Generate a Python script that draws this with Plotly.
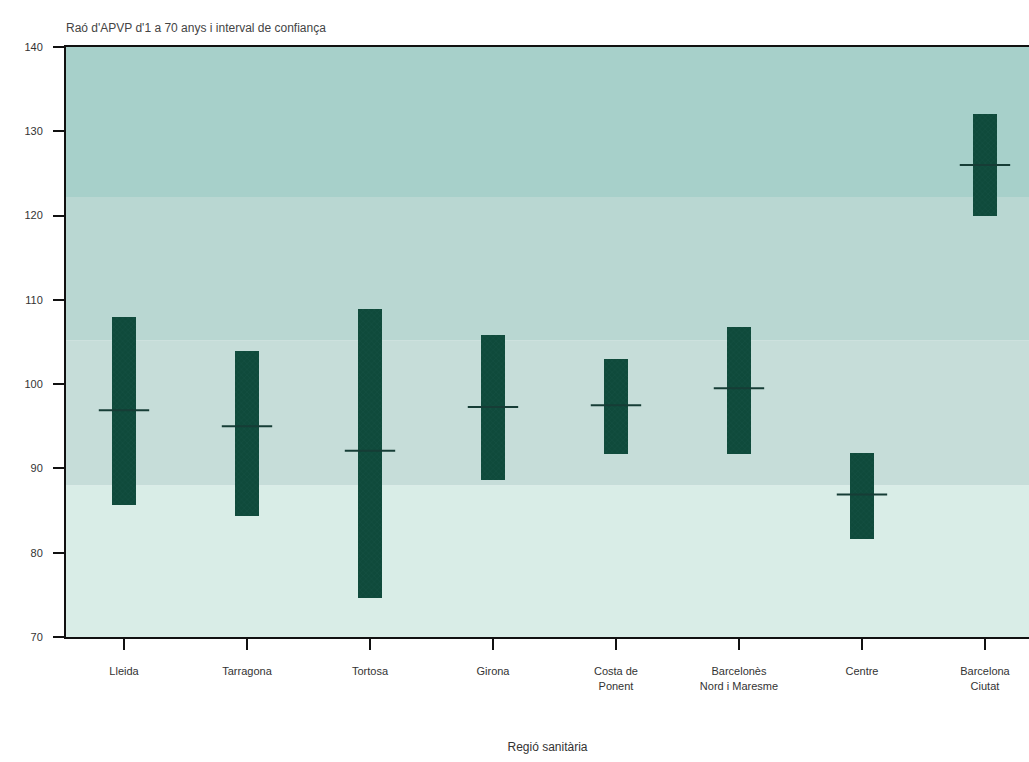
import plotly.graph_objects as go

regions = ["Lleida", "Tarragona", "Tortosa", "Girona", "Costa de<br>Ponent",
           "Barcelonès<br>Nord i Maresme", "Centre", "Barcelona<br>Ciutat"]
ratio = [96.9, 95.0, 92.1, 97.3, 97.5, 99.5, 86.9, 126.0]
ci_low = [85.7, 84.4, 74.6, 88.6, 91.7, 91.7, 81.6, 120.0]
ci_high = [108.0, 103.9, 108.9, 105.8, 103.0, 106.8, 91.8, 132.1]

band_edges = [70, 88, 105.2, 122.2, 140]
band_colors = ["#d9ede7", "#c6ddd9", "#b9d7d2", "#a7d0ca"]

xpos = list(range(len(regions)))

fig = go.Figure()

fig.add_trace(go.Bar(
    x=xpos,
    y=[h - l for h, l in zip(ci_high, ci_low)],
    base=ci_low,
    width=0.2,
    marker=dict(color="#0f4a3b", line=dict(width=0),
                pattern=dict(shape="x", fgcolor="#1d5d52", size=4, solidity=0.2)),
    hoverinfo="skip",
    showlegend=False,
))

fig.add_trace(go.Scatter(
    x=xpos, y=ratio, mode="markers",
    marker=dict(symbol="line-ew-open", size=36, color="#163d36",
                line=dict(color="#163d36", width=2)),
    showlegend=False,
))

shapes = []
for i in range(len(band_colors)):
    shapes.append(dict(type="rect", xref="paper", yref="y", x0=0, x1=1,
                       y0=band_edges[i], y1=band_edges[i + 1],
                       fillcolor=band_colors[i], line=dict(width=0),
                       layer="below"))

font = dict(family="Liberation Sans, Arial, sans-serif", size=11, color="#333333")

fig.update_layout(
    width=1029, height=762,
    margin=dict(l=66, r=0, t=47, b=125),
    paper_bgcolor="white",
    plot_bgcolor="white",
    shapes=shapes,
    font=font,
    bargap=0,
    title=dict(text="Raó d'APVP d'1 a 70 anys i interval de confiança",
               x=66 / 1029, xanchor="left", y=1 - 28 / 762, yanchor="middle",
               font=dict(family="Liberation Sans, Arial, sans-serif", size=12, color="#444444")),
    xaxis=dict(
        range=[-0.4715, 7.358],
        tickvals=xpos, ticktext=regions,
        ticks="outside", ticklen=11, tickwidth=2, tickcolor="#111111",
        ticklabelstandoff=12,
        showline=True, linecolor="#111111", linewidth=2, mirror=True,
        showgrid=False, zeroline=False,
        title=dict(text="Regió sanitària", standoff=52,
                   font=dict(family="Liberation Sans, Arial, sans-serif", size=12, color="#333333")),
        tickfont=font,
    ),
    yaxis=dict(
        range=[70, 140],
        tickvals=[70, 80, 90, 100, 110, 120, 130, 140],
        ticks="outside", ticklen=11, tickwidth=2, tickcolor="#111111",
        ticklabelstandoff=8,
        showline=True, linecolor="#111111", linewidth=2,
        showgrid=False, zeroline=False,
        tickfont=font,
    ),
)

fig.write_html("out.html", config={"displayModeBar": False},
               post_script="document.body.style.margin='0';")
